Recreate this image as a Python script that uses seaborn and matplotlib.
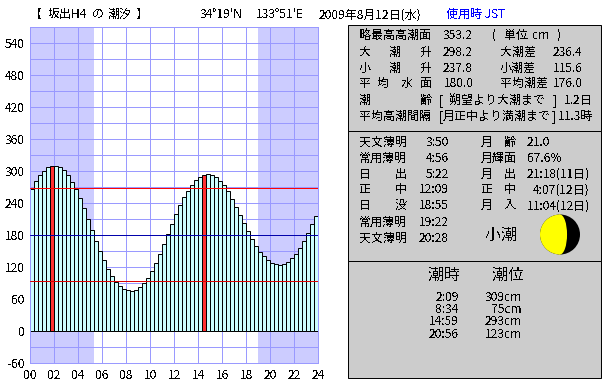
"""坂出H4 の 潮汐: 潮位の棒グラフと右側の情報パネル"""
import numpy as np
import pandas as pd
import matplotlib
matplotlib.use("Agg")
import matplotlib.pyplot as plt
from matplotlib.patches import Rectangle, Circle, Wedge, Ellipse
import seaborn as sns

# 20分ごとの潮位 (cm)
levels = [266, 280, 291, 300, 306, 308, 308, 306, 301, 291, 279, 266,
          248, 229, 209, 188, 167, 149, 132, 115, 102, 91, 84, 78,
          76, 74, 76, 81, 89, 98, 111, 126, 143, 162, 181, 199,
          218, 235, 250, 262, 273, 282, 288, 292, 293, 291, 288, 281,
          272, 262, 247, 231, 216, 201, 186, 171, 158, 147, 139, 132,
          126, 124, 122, 124, 128, 136, 143, 154, 167, 182, 199, 214]
# 満干の棒 (赤)
high_water_bars = [5, 43]

night_spans = [(0, 5.27), (18.95, 24)]
ref_lines = [(267, "#ff0000"), (180, "#0000aa"), (92.5, "#dd0000")]

y_ticks = list(range(-60, 571, 30))
y_tick_labels = [str(v) if v % 60 == 0 else "" for v in y_ticks]
x_ticks = list(range(0, 25, 2))
x_tick_labels = [f"{h:02d}" for h in x_ticks]

header = [(30, "【", "black"), (48, "坂出H4", "black"), (92, "の", "black"), (108, "潮汐", "black"),
          (136, "】", "black"),
          (200, "34°19'N", "black"),
          (255.5, "133°51'E", "black"),
          (319, "2009年8月12日(水)", "black"),
          (446.5, "使用時 JST", "#0000ff")]

tide_rows = [
    (359, 34, "略最高高潮面"), (443, 34, "353.2"), (492, 34, "("), (504, 34, "単位"), (532, 34, "cm"), (557, 34, ")"),
    (359, 51, "大"), (389, 51, "潮"), (420, 51, "升"), (443, 51, "298.2"), (500, 51, "大潮差"), (553, 51, "236.4"),
    (359, 67, "小"), (389, 67, "潮"), (420, 67, "升"), (443, 67, "237.8"), (500, 67, "小潮差"), (553, 67, "115.6"),
    (359, 82.5, "平"), (377, 82.5, "均"), (401, 82.5, "水"), (420, 82.5, "面"), (444, 82.5, "180.0"),
    (500, 82.5, "平均潮差"), (553, 82.5, "176.0"),
    (359, 99, "潮"), (420, 99, "齢"), (439, 99, "["), (449, 99, "朔望より大潮まで"), (553, 99, "]"), (564, 99, "1.2日"),
    (359, 115, "平均高潮間隔"), (439, 115, "["), (443, 115, "月正中より満潮まで"), (552, 115, "]"), (558, 115, "11.3時"),
]
sun_labels = ["天文薄明", "常用薄明", None, None, None, "常用薄明", "天文薄明"]
sun_split = {2: ("日", "出"), 3: ("正", "中"), 4: ("日", "没")}
sun_times = ["3:50", "4:56", "5:22", "12:09", "18:55", "19:22", "20:28"]
sun_y = [141, 157, 173, 188.5, 204.5, 221, 237]
moon_rows = [(("月", "齢"), "21.0", 527), ("月輝面", "67.6%", 527), (("月", "出"), "21:18(11日)", 527),
             (("正", "中"), "4:07(12日)", 533), (("月", "入"), "11:04(12日)", 527)]
tide_name = "小潮"
moon_lit = 0.676

peak_times = ["2:09", "8:34", "14:59", "20:56"]
peak_levels = ["309cm", "75cm", "293cm", "123cm"]
peak_y = [296, 308, 320, 333]

W, H = 610, 385
PX = 0.72  # 1px -> pt (dpi 100)
LW = 0.71  # 1px より僅かに細くしないとスナップが半ピクセルずれて線が薄くなる

sns.set_style("white")
plt.rcParams["font.family"] = ["Noto Sans CJK JP", "DejaVu Sans"]
plt.rcParams["text.antialiased"] = False

df = pd.DataFrame({"hour": (np.arange(len(levels)) + 0.5) / 3, "level": levels})
df["kind"] = ["high" if i in high_water_bars else "normal" for i in range(len(levels))]

fig = plt.figure(figsize=(W / 100, H / 100), dpi=100, facecolor="white")
ax = fig.add_axes([30.45 / W, 1 - 362.5 / H, 288 / W, 336 / H])

for start, end in night_spans:
    ax.axvspan(start, end, color="#ccccff", lw=0, zorder=0)

sns.barplot(data=df, x="hour", y="level", hue="kind", ax=ax, native_scale=True, dodge=False, width=1,
            palette={"normal": "#ccffff", "high": "#ff3333"}, edgecolor="black", linewidth=LW,
            legend=False, zorder=2, errorbar=None, saturation=1)

for value, color in ref_lines:
    ax.axhline(value, color=color, lw=LW, zorder=3)

ax.set_xlim(0, 24)
ax.set_ylim(-60, 570)
ax.set_xticks(x_ticks, x_tick_labels)
ax.set_yticks(y_ticks, y_tick_labels)
ax.set_xlabel("")
ax.set_ylabel("")
ax.tick_params(length=0, labelsize=12 * PX, colors="black")
ax.tick_params(axis="x", pad=5)
ax.tick_params(axis="y", pad=4)

# グリッドは棒の下に直接引く
for v in y_ticks:
    ax.axhline(v, color="#9999ff", lw=LW, zorder=1)
for h in x_ticks:
    ax.axvline(h, color="#9999ff", lw=LW, zorder=1)

for spine in ax.spines.values():
    spine.set_color("#9999ff")
    spine.set_linewidth(LW)
    spine.set_visible(True)

# 右パネルとヘッダはピクセル座標のオーバーレイに置く
ov = fig.add_axes([0, 0, 1, 1], facecolor="none")
ov.set_xlim(0, W)
ov.set_ylim(H, 0)
ov.axis("off")


def put(x, y, s, size=12, ha="left", color="black"):
    ov.text(x, y + size * 0.38, s, fontsize=size * PX, ha=ha, va="baseline", color=color)


for top, bottom in [(24.5, 130.5), (130.5, 260.5), (260.5, 377.5)]:
    ov.add_patch(Rectangle((347.5, top), 253, bottom - top, fc="#cccccc", ec="black", lw=LW))

for x, s, color in header:
    put(x, 13.5, s, color=color)

for x, y, s in tide_rows:
    put(x, y, s)

for i, y in enumerate(sun_y):
    if sun_labels[i]:
        put(359, y, sun_labels[i])
    else:
        put(359, y, sun_split[i][0])
        put(395, y, sun_split[i][1])
    put(448.5, y, sun_times[i], ha="right")
    if i < len(moon_rows):
        label, value, vx = moon_rows[i]
        if isinstance(label, tuple):
            put(481, y, label[0])
            put(504, y, label[1])
        else:
            put(481, y, label)
        put(vx, y, value)

put(485, 234, tide_name, size=16)
mx, my, mr = 560, 234.5, 20
ov.add_patch(Circle((mx, my), mr, fc="black", ec="none"))
ov.add_patch(Wedge((mx, my), mr, 90, 270, fc="#ffff00", ec="none"))
ov.add_patch(Ellipse((mx, my), 2 * mr * (2 * moon_lit - 1), 2 * mr, fc="#ffff00", ec="none"))

put(428, 274, "潮時", size=16)
put(492, 274, "潮位", size=16)
for t, lv, y in zip(peak_times, peak_levels, peak_y):
    put(458.5, y, t, size=12, ha="right")
    put(521.5, y, lv, size=12, ha="right")

fig.savefig("out.png", dpi=100)
